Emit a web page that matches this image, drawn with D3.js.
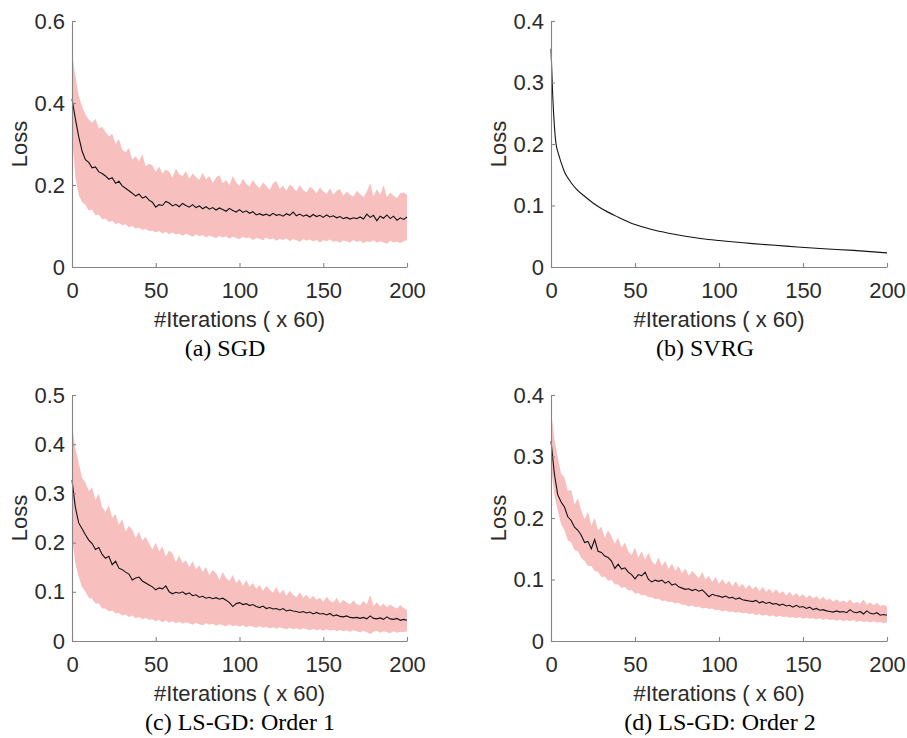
<!DOCTYPE html>
<html lang="en">
<head>
<meta charset="UTF-8">
<script src="https://d3js.org/d3.v7.min.js"></script>
<title>Loss curves</title>
<style>
    body { margin: 0; background: #fff; }
    .axis path, .axis line { stroke: #858585; stroke-width: 1.1px; }
    .axis text { fill: #2b2b2b; font-family: "Liberation Sans", Arial, sans-serif; font-size: 22px; }
    .label { fill: #2b2b2b; font-family: "Liberation Sans", Arial, sans-serif; font-size: 22px; }
    .caption { fill: #000; font-family: "Liberation Serif", "Times New Roman", serif; font-size: 24px; }
</style>
</head>
<body>
<script>
/*------------------- data (x = 0,2,...,200) -------------------*/
const iters = d3.range(0, 201, 2);
const xTicks = [0, 50, 100, 150, 200];

// (a) SGD
const sgdMean = [0.410,0.362,0.318,0.283,0.262,0.255,0.242,0.244,0.232,0.228,0.222,0.214,0.218,0.204,0.209,0.198,0.192,0.186,0.180,0.173,
    0.178,0.168,0.172,0.163,0.158,0.146,0.152,0.150,0.160,0.156,0.149,0.153,0.147,0.155,0.150,0.146,0.152,0.145,0.149,0.142,
    0.147,0.141,0.145,0.139,0.144,0.140,0.136,0.143,0.138,0.134,0.140,0.133,0.137,0.131,0.135,0.127,0.130,0.126,0.129,0.125,
    0.131,0.126,0.128,0.124,0.130,0.126,0.134,0.125,0.129,0.124,0.127,0.122,0.128,0.123,0.126,0.121,0.127,0.122,0.125,0.120,
    0.123,0.118,0.121,0.117,0.120,0.118,0.122,0.117,0.129,0.121,0.126,0.113,0.124,0.119,0.127,0.118,0.124,0.114,0.120,0.116,0.122];
const sgdUpper = [0.525,0.465,0.418,0.392,0.372,0.360,0.352,0.361,0.338,0.342,0.330,0.318,0.325,0.300,0.312,0.286,0.280,0.290,0.262,0.270,
    0.258,0.275,0.245,0.252,0.248,0.232,0.245,0.228,0.238,0.232,0.218,0.240,0.226,0.222,0.234,0.215,0.228,0.220,0.212,0.230,
    0.214,0.222,0.205,0.218,0.224,0.204,0.212,0.200,0.222,0.206,0.198,0.215,0.203,0.196,0.212,0.200,0.192,0.206,0.198,0.188,
    0.204,0.210,0.190,0.198,0.186,0.202,0.194,0.185,0.200,0.188,0.182,0.196,0.190,0.180,0.194,0.185,0.178,0.192,0.176,0.186,
    0.190,0.174,0.184,0.176,0.172,0.186,0.178,0.170,0.184,0.205,0.172,0.190,0.176,0.200,0.170,0.182,0.174,0.168,0.180,0.182,0.176];
const sgdLower = [0.320,0.218,0.176,0.158,0.152,0.138,0.140,0.126,0.128,0.116,0.118,0.110,0.113,0.105,0.108,0.102,0.104,0.097,0.100,0.094,
    0.096,0.090,0.093,0.087,0.089,0.085,0.088,0.082,0.086,0.080,0.084,0.079,0.082,0.076,0.081,0.078,0.074,0.080,0.075,0.078,
    0.072,0.077,0.074,0.070,0.076,0.072,0.075,0.069,0.074,0.071,0.068,0.074,0.070,0.072,0.066,0.071,0.069,0.065,0.072,0.067,
    0.070,0.064,0.069,0.066,0.070,0.063,0.068,0.065,0.061,0.068,0.064,0.067,0.062,0.066,0.060,0.065,0.063,0.067,0.061,0.064,
    0.059,0.065,0.062,0.060,0.066,0.061,0.064,0.058,0.063,0.061,0.065,0.059,0.063,0.060,0.057,0.064,0.060,0.062,0.058,0.063,0.066];

// (b) SVRG
const svrgIters = [0,1,2,3,4,5,6,8,10,12,15,20,25,30,40,50,60,70,80,90,100,120,140,160,180,200];
const svrgLoss = [0.355,0.280,0.230,0.200,0.188,0.179,0.170,0.155,0.145,0.137,0.127,0.115,0.104,0.095,0.081,0.069,0.061,0.055,0.050,0.046,
    0.043,0.038,0.034,0.030,0.027,0.023];

// (c) LS-GD order 1
const ls1Mean = [0.327,0.272,0.240,0.228,0.216,0.205,0.198,0.186,0.190,0.176,0.168,0.172,0.155,0.162,0.148,0.145,0.140,0.136,0.124,0.128,
    0.130,0.122,0.118,0.114,0.110,0.104,0.108,0.106,0.112,0.100,0.096,0.099,0.097,0.100,0.095,0.098,0.092,0.094,0.089,0.091,
    0.087,0.089,0.086,0.088,0.085,0.087,0.083,0.078,0.070,0.076,0.078,0.074,0.076,0.072,0.074,0.070,0.068,0.071,0.066,0.068,
    0.065,0.066,0.063,0.066,0.061,0.063,0.061,0.060,0.058,0.060,0.057,0.059,0.055,0.058,0.055,0.056,0.053,0.056,0.051,0.053,
    0.050,0.049,0.051,0.048,0.047,0.048,0.046,0.048,0.045,0.051,0.046,0.045,0.047,0.044,0.049,0.045,0.044,0.046,0.042,0.044,0.042];
const ls1Upper = [0.440,0.392,0.362,0.332,0.322,0.305,0.312,0.286,0.300,0.272,0.262,0.276,0.250,0.258,0.236,0.248,0.222,0.234,0.226,0.210,
    0.222,0.204,0.212,0.198,0.186,0.200,0.182,0.192,0.172,0.184,0.178,0.160,0.174,0.158,0.164,0.150,0.162,0.146,0.154,0.140,
    0.150,0.134,0.144,0.138,0.124,0.140,0.128,0.122,0.134,0.118,0.126,0.112,0.124,0.110,0.118,0.106,0.114,0.102,0.112,0.104,
    0.098,0.110,0.096,0.104,0.092,0.102,0.094,0.089,0.099,0.088,0.094,0.085,0.092,0.084,0.088,0.080,0.090,0.082,0.078,0.088,
    0.076,0.084,0.078,0.074,0.083,0.075,0.072,0.082,0.074,0.094,0.071,0.079,0.070,0.076,0.068,0.074,0.069,0.066,0.073,0.067,0.063];
const ls1Lower = [0.210,0.158,0.130,0.110,0.100,0.088,0.086,0.076,0.076,0.066,0.066,0.060,0.062,0.056,0.057,0.052,0.054,0.049,0.052,0.046,
    0.049,0.044,0.047,0.043,0.044,0.040,0.043,0.038,0.042,0.037,0.040,0.036,0.039,0.035,0.038,0.036,0.033,0.037,0.034,0.032,
    0.036,0.033,0.035,0.031,0.034,0.032,0.030,0.034,0.030,0.032,0.029,0.032,0.028,0.031,0.029,0.027,0.030,0.027,0.029,0.026,
    0.028,0.025,0.028,0.026,0.024,0.027,0.024,0.026,0.023,0.026,0.024,0.022,0.025,0.022,0.024,0.021,0.024,0.021,0.023,0.020,
    0.023,0.020,0.022,0.019,0.022,0.020,0.018,0.021,0.018,0.014,0.019,0.021,0.017,0.020,0.018,0.016,0.020,0.017,0.019,0.018,0.020];

// (d) LS-GD order 2
const ls2Mean = [0.325,0.272,0.238,0.226,0.218,0.202,0.196,0.185,0.180,0.172,0.160,0.162,0.150,0.165,0.146,0.144,0.138,0.136,0.130,0.118,
    0.125,0.117,0.119,0.112,0.108,0.101,0.108,0.106,0.112,0.100,0.096,0.099,0.097,0.099,0.094,0.097,0.091,0.093,0.088,0.086,
    0.084,0.085,0.082,0.084,0.081,0.083,0.078,0.072,0.076,0.074,0.073,0.071,0.073,0.070,0.071,0.068,0.070,0.067,0.066,0.065,
    0.064,0.066,0.062,0.064,0.061,0.063,0.060,0.061,0.058,0.060,0.057,0.058,0.055,0.058,0.055,0.056,0.053,0.055,0.051,0.053,
    0.050,0.051,0.049,0.048,0.047,0.049,0.047,0.048,0.046,0.051,0.047,0.046,0.048,0.044,0.049,0.045,0.044,0.046,0.042,0.043,0.042];
const ls2Upper = [0.375,0.328,0.300,0.272,0.266,0.244,0.246,0.222,0.232,0.212,0.198,0.210,0.188,0.200,0.180,0.186,0.168,0.180,0.170,0.158,
    0.168,0.152,0.160,0.146,0.140,0.152,0.136,0.146,0.132,0.144,0.130,0.124,0.136,0.122,0.130,0.117,0.126,0.114,0.122,0.110,
    0.118,0.106,0.114,0.108,0.102,0.112,0.100,0.106,0.096,0.104,0.093,0.101,0.092,0.098,0.089,0.097,0.088,0.093,0.085,0.092,
    0.084,0.089,0.081,0.088,0.080,0.085,0.078,0.084,0.077,0.081,0.074,0.080,0.073,0.078,0.072,0.076,0.070,0.075,0.069,0.073,
    0.067,0.072,0.066,0.069,0.064,0.068,0.063,0.066,0.062,0.068,0.061,0.064,0.060,0.068,0.059,0.063,0.058,0.062,0.057,0.059,0.056];
const ls2Lower = [0.282,0.238,0.212,0.190,0.180,0.164,0.160,0.148,0.146,0.135,0.130,0.122,0.122,0.114,0.112,0.104,0.105,0.098,0.099,0.092,
    0.092,0.086,0.088,0.082,0.083,0.077,0.078,0.074,0.075,0.071,0.071,0.068,0.069,0.065,0.066,0.063,0.064,0.061,0.062,0.059,
    0.059,0.056,0.058,0.055,0.056,0.053,0.054,0.052,0.053,0.050,0.051,0.048,0.050,0.047,0.048,0.046,0.047,0.045,0.046,0.044,
    0.045,0.042,0.044,0.041,0.043,0.040,0.042,0.039,0.041,0.039,0.040,0.038,0.039,0.037,0.039,0.036,0.038,0.036,0.037,0.035,
    0.037,0.034,0.036,0.034,0.035,0.033,0.035,0.032,0.034,0.032,0.034,0.031,0.033,0.031,0.032,0.030,0.032,0.030,0.031,0.029,0.030];

/*------------------- panel layout -------------------*/
const panels = [
    {caption: "(a) SGD", left: 72, right: 407, top: 21, bottom: 267, yMax: 0.6, yTicks: [0, 0.2, 0.4, 0.6], capX: 225,
     x: iters, mean: sgdMean, upper: sgdUpper, lower: sgdLower},
    {caption: "(b) SVRG", left: 551, right: 887, top: 21, bottom: 267, yMax: 0.4, yTicks: [0, 0.1, 0.2, 0.3, 0.4], capX: 705,
     x: svrgIters, mean: svrgLoss, smooth: true},
    {caption: "(c) LS-GD: Order 1", left: 72, right: 407, top: 395, bottom: 641, yMax: 0.5, yTicks: [0, 0.1, 0.2, 0.3, 0.4, 0.5], capX: 240,
     x: iters, mean: ls1Mean, upper: ls1Upper, lower: ls1Lower},
    {caption: "(d) LS-GD: Order 2", left: 551, right: 887, top: 395, bottom: 641, yMax: 0.4, yTicks: [0, 0.1, 0.2, 0.3, 0.4], capX: 720,
     x: iters, mean: ls2Mean, upper: ls2Upper, lower: ls2Lower}
];

const svg = d3.select("body").append("svg")
    .attr("width", 907)
    .attr("height", 738);

panels.forEach(p => {
    const x = d3.scaleLinear().domain([0, 200]).range([p.left, p.right]);
    const y = d3.scaleLinear().domain([0, p.yMax]).range([p.bottom, p.top]);
    const g = svg.append("g");

    // shaded band
    if (p.upper) {
        const area = d3.area()
            .x((d, i) => x(p.x[i]))
            .y0((d, i) => y(p.lower[i]))
            .y1((d, i) => y(p.upper[i]));
        g.append("path")
            .attr("d", area(p.x))
            .attr("fill", "#f8bfbf");
    }

    // mean curve
    const line = d3.line()
        .x((d, i) => x(p.x[i]))
        .y((d, i) => y(p.mean[i]))
        .curve(p.smooth ? d3.curveMonotoneX : d3.curveLinear);
    g.append("path")
        .attr("d", line(p.x))
        .attr("fill", "none")
        .attr("stroke", "#111")
        .attr("stroke-width", 1.1);

    // axes (inward ticks, matlab style)
    g.append("g")
        .attr("class", "axis")
        .attr("transform", `translate(0,${p.bottom})`)
        .call(d3.axisBottom(x).tickValues(xTicks).tickSizeInner(-4).tickSizeOuter(0).tickPadding(15));

    g.append("g")
        .attr("class", "axis")
        .attr("transform", `translate(${p.left},0)`)
        .call(d3.axisLeft(y).tickValues(p.yTicks).tickSizeInner(-4).tickSizeOuter(0).tickPadding(7)
            .tickFormat(d => d === 0 ? "0" : d3.format(".1f")(d)));

    svg.selectAll(".axis").attr("font-family", null).attr("font-size", null);

    // labels
    g.append("text")
        .attr("class", "label")
        .attr("x", (p.left + p.right) / 2)
        .attr("y", p.bottom + 60)
        .attr("text-anchor", "middle")
        .text("#Iterations ( x 60)");

    g.append("text")
        .attr("class", "label")
        .attr("transform", `translate(${p.left - 45},${(p.top + p.bottom) / 2}) rotate(-90)`)
        .attr("text-anchor", "middle")
        .text("Loss");

    g.append("text")
        .attr("class", "caption")
        .attr("x", p.capX)
        .attr("y", p.bottom + 89)
        .attr("text-anchor", "middle")
        .text(p.caption);
});
</script>
</body>
</html>
